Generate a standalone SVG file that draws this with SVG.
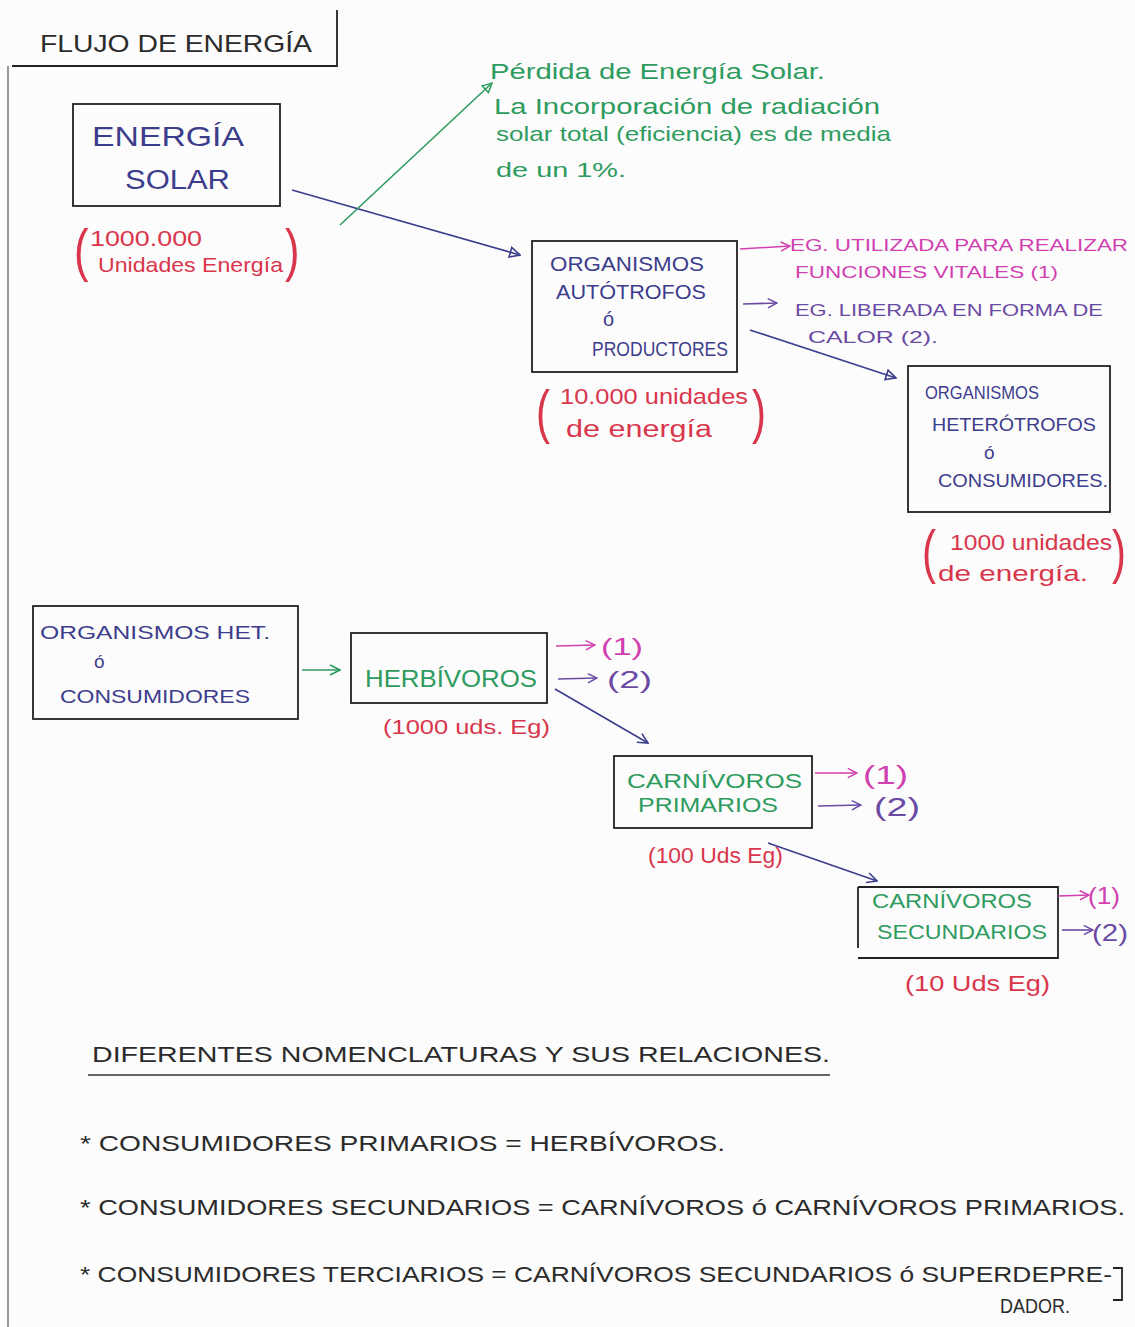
<svg xmlns="http://www.w3.org/2000/svg" width="1135" height="1327" viewBox="0 0 1135 1327">
  <style>
    text { font-family: "Liberation Sans", "DejaVu Sans", sans-serif; }
    .ink { fill: #2b2b2b; }
    .blue { fill: #3c3d8c; }
    .green { fill: #2e9b5f; }
    .red { fill: #d9364c; }
    .mag { fill: #d040b0; }
    .pur { fill: #6a4aa3; }
    .box { fill: none; stroke: #222; stroke-width: 1.8; }
    .c-blue { stroke: #3c3d8c; stroke-width: 1.6; fill: none; }
    .c-green { stroke: #2e9b5f; stroke-width: 1.6; fill: none; }
    .c-mag { stroke: #d040b0; stroke-width: 1.6; fill: none; }
    .c-pur { stroke: #6a4aa3; stroke-width: 1.6; fill: none; }
  </style>
  <defs>
    <marker id="triBlue" viewBox="0 0 12 12" refX="11" refY="6" markerWidth="12" markerHeight="12" markerUnits="userSpaceOnUse" orient="auto">
      <path d="M1,1 L11,6 L1,11 Z" fill="none" stroke="#3c3d8c" stroke-width="1.6"/>
    </marker>
    <marker id="vBlue" viewBox="0 0 12 12" refX="11" refY="6" markerWidth="12" markerHeight="12" markerUnits="userSpaceOnUse" orient="auto">
      <path d="M1,1 L11,6 L1,11" fill="none" stroke="#3c3d8c" stroke-width="1.6"/>
    </marker>
    <marker id="vGreen" viewBox="0 0 12 12" refX="11" refY="6" markerWidth="12" markerHeight="12" markerUnits="userSpaceOnUse" orient="auto">
      <path d="M1,1 L11,6 L1,11" fill="none" stroke="#2e9b5f" stroke-width="1.8"/>
    </marker>
    <marker id="triGreen" viewBox="0 0 12 12" refX="11" refY="6" markerWidth="11" markerHeight="11" markerUnits="userSpaceOnUse" orient="auto">
      <path d="M1,1 L11,6 L1,11 Z" fill="none" stroke="#2e9b5f" stroke-width="1.6"/>
    </marker>
    <marker id="vMag" viewBox="0 0 12 12" refX="11" refY="6" markerWidth="11" markerHeight="11" markerUnits="userSpaceOnUse" orient="auto">
      <path d="M1,1 L11,6 L1,11" fill="none" stroke="#d040b0" stroke-width="1.6"/>
    </marker>
    <marker id="vPur" viewBox="0 0 12 12" refX="11" refY="6" markerWidth="11" markerHeight="11" markerUnits="userSpaceOnUse" orient="auto">
      <path d="M1,1 L11,6 L1,11" fill="none" stroke="#6a4aa3" stroke-width="1.6"/>
    </marker>
  </defs>

  <!-- paper -->
  <rect x="0" y="0" width="1135" height="1327" fill="#fcfcfc"/>
  <line x1="8" y1="66" x2="8" y2="1327" stroke="#555" stroke-width="1.2"/>

  <!-- title frame -->
  <g id="title">
    <path d="M12,66 L337,66 L337,10" fill="none" stroke="#222" stroke-width="1.8"/>
    <text class="ink" x="40" y="52" font-size="24" textLength="272" lengthAdjust="spacingAndGlyphs">FLUJO DE ENERGÍA</text>
  </g>

  <!-- upper chain -->
  <g id="solar">
    <rect class="box" x="73" y="104" width="207" height="102"/>
    <text class="blue" x="92" y="146" font-size="28" textLength="152" lengthAdjust="spacingAndGlyphs">ENERGÍA</text>
    <text class="blue" x="125" y="189" font-size="27" textLength="105" lengthAdjust="spacingAndGlyphs">SOLAR</text>
    <text class="red" x="74" y="270" font-size="58" transform="translate(74,250) scale(0.75,1) translate(-74,-250)">(</text>
    <text class="red" x="90" y="246" font-size="22" textLength="112" lengthAdjust="spacingAndGlyphs">1000.000</text>
    <text class="red" x="98" y="272" font-size="21" textLength="185" lengthAdjust="spacingAndGlyphs">Unidades Energía</text>
    <text class="red" x="285" y="270" font-size="58" transform="translate(285,250) scale(0.75,1) translate(-285,-250)">)</text>
  </g>

  <g id="loss">
    <text class="green" x="490" y="79" font-size="22" textLength="335" lengthAdjust="spacingAndGlyphs">Pérdida de Energía Solar.</text>
    <text class="green" x="494" y="114" font-size="22" textLength="386" lengthAdjust="spacingAndGlyphs">La Incorporación de radiación</text>
    <text class="green" x="496" y="141" font-size="21" textLength="395" lengthAdjust="spacingAndGlyphs">solar total (eficiencia) es de media</text>
    <text class="green" x="496" y="177" font-size="21" textLength="130" lengthAdjust="spacingAndGlyphs">de un 1%.</text>
  </g>

  <g id="autotrofos">
    <rect class="box" x="532" y="241" width="205" height="131"/>
    <text class="blue" x="550" y="271" font-size="20" textLength="154" lengthAdjust="spacingAndGlyphs">ORGANISMOS</text>
    <text class="blue" x="556" y="299" font-size="20" textLength="150" lengthAdjust="spacingAndGlyphs">AUTÓTROFOS</text>
    <text class="blue" x="603" y="326" font-size="20">ó</text>
    <text class="blue" x="592" y="356" font-size="20" textLength="136" lengthAdjust="spacingAndGlyphs">PRODUCTORES</text>
    <text class="red" x="536" y="432" font-size="60" transform="translate(536,410) scale(0.7,1) translate(-536,-410)">(</text>
    <text class="red" x="560" y="404" font-size="22" textLength="188" lengthAdjust="spacingAndGlyphs">10.000 unidades</text>
    <text class="red" x="566" y="437" font-size="23" textLength="146" lengthAdjust="spacingAndGlyphs">de energía</text>
    <text class="red" x="752" y="432" font-size="60" transform="translate(752,410) scale(0.7,1) translate(-752,-410)">)</text>
  </g>

  <g id="outputs-auto">
    <text class="mag" x="790" y="251" font-size="17" textLength="338" lengthAdjust="spacingAndGlyphs">EG. UTILIZADA PARA REALIZAR</text>
    <text class="mag" x="795" y="278" font-size="17" textLength="263" lengthAdjust="spacingAndGlyphs">FUNCIONES VITALES (1)</text>
    <text class="pur" x="795" y="316" font-size="17" textLength="308" lengthAdjust="spacingAndGlyphs">EG. LIBERADA EN FORMA DE</text>
    <text class="pur" x="808" y="343" font-size="17" textLength="130" lengthAdjust="spacingAndGlyphs">CALOR (2).</text>
  </g>

  <g id="heterotrofos">
    <rect class="box" x="908" y="366" width="202" height="146"/>
    <text class="blue" x="925" y="399" font-size="19" textLength="114" lengthAdjust="spacingAndGlyphs">ORGANISMOS</text>
    <text class="blue" x="932" y="431" font-size="19" textLength="164" lengthAdjust="spacingAndGlyphs">HETERÓTROFOS</text>
    <text class="blue" x="984" y="459" font-size="19">ó</text>
    <text class="blue" x="938" y="487" font-size="19" textLength="170" lengthAdjust="spacingAndGlyphs">CONSUMIDORES.</text>
    <text class="red" x="922" y="572" font-size="60" transform="translate(922,550) scale(0.7,1) translate(-922,-550)">(</text>
    <text class="red" x="950" y="550" font-size="22" textLength="162" lengthAdjust="spacingAndGlyphs">1000 unidades</text>
    <text class="red" x="938" y="581" font-size="22" textLength="150" lengthAdjust="spacingAndGlyphs">de energía.</text>
    <text class="red" x="1112" y="572" font-size="60" transform="translate(1112,550) scale(0.7,1) translate(-1112,-550)">)</text>
  </g>

  <!-- lower chain -->
  <g id="consumidores">
    <rect class="box" x="33" y="606" width="265" height="113"/>
    <text class="blue" x="40" y="639" font-size="19" textLength="230" lengthAdjust="spacingAndGlyphs">ORGANISMOS HET.</text>
    <text class="blue" x="94" y="668" font-size="19">ó</text>
    <text class="blue" x="60" y="703" font-size="19" textLength="190" lengthAdjust="spacingAndGlyphs">CONSUMIDORES</text>
  </g>

  <g id="herbivoros">
    <rect class="box" x="351" y="633" width="196" height="70"/>
    <text class="green" x="365" y="687" font-size="24" textLength="172" lengthAdjust="spacingAndGlyphs">HERBÍVOROS</text>
    <text class="red" x="383" y="734" font-size="21" textLength="167" lengthAdjust="spacingAndGlyphs">(1000 uds. Eg)</text>
    <text class="mag" x="601" y="655" font-size="24" textLength="42" lengthAdjust="spacingAndGlyphs">(1)</text>
    <text class="pur" x="607" y="688" font-size="24" textLength="45" lengthAdjust="spacingAndGlyphs">(2)</text>
  </g>

  <g id="carnivoros-primarios">
    <rect class="box" x="614" y="756" width="198" height="72"/>
    <text class="green" x="627" y="788" font-size="21" textLength="175" lengthAdjust="spacingAndGlyphs">CARNÍVOROS</text>
    <text class="green" x="638" y="812" font-size="21" textLength="140" lengthAdjust="spacingAndGlyphs">PRIMARIOS</text>
    <text class="red" x="648" y="863" font-size="22" textLength="135" lengthAdjust="spacingAndGlyphs">(100 Uds Eg)</text>
    <text class="mag" x="863" y="784" font-size="26" textLength="45" lengthAdjust="spacingAndGlyphs">(1)</text>
    <text class="pur" x="874" y="816" font-size="26" textLength="46" lengthAdjust="spacingAndGlyphs">(2)</text>
  </g>

  <g id="carnivoros-secundarios">
    <path class="box" d="M858,887 L1058,887 L1058,958 L858,958 M858,887 L858,948"/>
    <text class="green" x="872" y="908" font-size="20" textLength="160" lengthAdjust="spacingAndGlyphs">CARNÍVOROS</text>
    <text class="green" x="877" y="939" font-size="20" textLength="170" lengthAdjust="spacingAndGlyphs">SECUNDARIOS</text>
    <text class="red" x="905" y="991" font-size="22" textLength="145" lengthAdjust="spacingAndGlyphs">(10 Uds Eg)</text>
    <text class="mag" x="1088" y="904" font-size="24" textLength="32" lengthAdjust="spacingAndGlyphs">(1)</text>
    <text class="pur" x="1092" y="941" font-size="24" textLength="36" lengthAdjust="spacingAndGlyphs">(2)</text>
  </g>

  <!-- connectors -->
  <g id="connectors">
    <line class="c-blue" x1="292" y1="190" x2="520" y2="255" marker-end="url(#triBlue)"/>
    <line class="c-green" x1="340" y1="225" x2="492" y2="83" marker-end="url(#triGreen)"/>
    <line class="c-mag" x1="740" y1="249" x2="790" y2="246" marker-end="url(#vMag)"/>
    <line class="c-pur" x1="743" y1="304" x2="777" y2="303" marker-end="url(#vPur)"/>
    <line class="c-blue" x1="750" y1="330" x2="896" y2="378" marker-end="url(#triBlue)"/>
    <line class="c-green" x1="302" y1="670" x2="340" y2="670" marker-end="url(#vGreen)"/>
    <line class="c-mag" x1="556" y1="646" x2="595" y2="645" marker-end="url(#vMag)"/>
    <line class="c-pur" x1="558" y1="679" x2="597" y2="678" marker-end="url(#vPur)"/>
    <line class="c-blue" x1="555" y1="689" x2="648" y2="743" marker-end="url(#vBlue)"/>
    <line class="c-mag" x1="815" y1="773" x2="857" y2="773" marker-end="url(#vMag)"/>
    <line class="c-pur" x1="818" y1="806" x2="861" y2="805" marker-end="url(#vPur)"/>
    <line class="c-blue" x1="768" y1="843" x2="877" y2="881" marker-end="url(#vBlue)"/>
    <line class="c-mag" x1="1058" y1="896" x2="1089" y2="895" marker-end="url(#vMag)"/>
    <line class="c-pur" x1="1062" y1="930" x2="1093" y2="930" marker-end="url(#vPur)"/>
  </g>

  <!-- nomenclature notes -->
  <g id="notes">
    <text class="ink" x="92" y="1062" font-size="22" textLength="738" lengthAdjust="spacingAndGlyphs">DIFERENTES NOMENCLATURAS Y SUS RELACIONES.</text>
    <line x1="88" y1="1075" x2="830" y2="1075" stroke="#333" stroke-width="1.6"/>
    <text class="ink" x="80" y="1151" font-size="22" textLength="645" lengthAdjust="spacingAndGlyphs">* CONSUMIDORES PRIMARIOS = HERBÍVOROS.</text>
    <text class="ink" x="80" y="1215" font-size="22" textLength="1045" lengthAdjust="spacingAndGlyphs">* CONSUMIDORES SECUNDARIOS = CARNÍVOROS ó CARNÍVOROS PRIMARIOS.</text>
    <text class="ink" x="80" y="1282" font-size="22" textLength="1032" lengthAdjust="spacingAndGlyphs">* CONSUMIDORES TERCIARIOS = CARNÍVOROS SECUNDARIOS ó SUPERDEPRE-</text>
    <path d="M1113,1268 L1122,1268 L1122,1300 L1113,1300" fill="none" stroke="#222" stroke-width="1.8"/>
    <text class="ink" x="1000" y="1313" font-size="20" textLength="70" lengthAdjust="spacingAndGlyphs">DADOR.</text>
  </g>
</svg>
